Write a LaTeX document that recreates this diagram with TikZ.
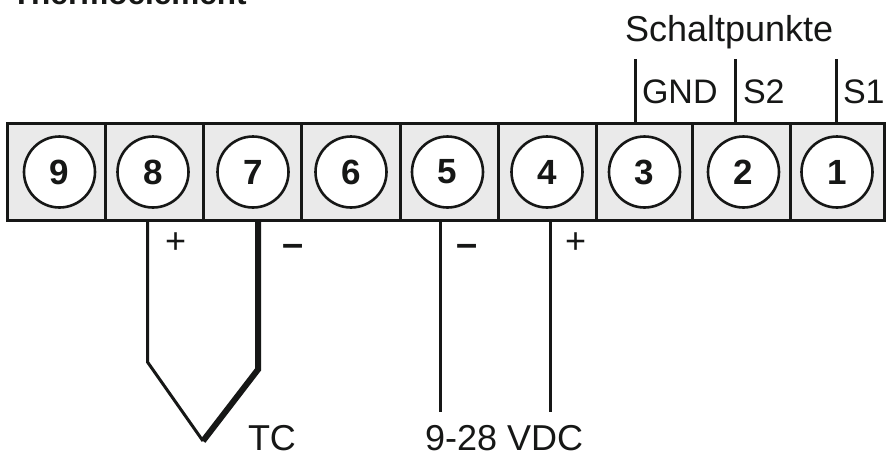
\documentclass[tikz,border=0pt]{standalone}
\usepackage{fontspec}
\setmainfont{Liberation Sans}
\definecolor{ink}{HTML}{161716}
\definecolor{cellgray}{HTML}{EAEAEA}
\tikzset{
  cell/.style={draw=ink,fill=cellgray,line width=3pt,rectangle,inner sep=0pt,outer sep=0pt,minimum height=97pt},
  term/.style={draw=ink,fill=white,line width=2.6pt,circle,inner sep=0pt,outer sep=0pt,minimum size=71pt,
    text=ink,font=\fontsize{35}{35}\selectfont\bfseries},
  wire/.style={draw=ink,line width=3pt,line cap=butt,line join=miter},
  heavy/.style={draw=ink,line width=6pt,line cap=butt,line join=miter},
  lab/.style={text=ink,inner sep=0pt,outer sep=0pt,font=\fontsize{36}{36}\selectfont},
  pol/.style={text=ink,inner sep=0pt,outer sep=0pt,font=\fontsize{36}{36}\selectfont},
  neg/.style={pol,font=\fontsize{38}{38}\selectfont\bfseries},
}
\begin{document}
\begin{tikzpicture}[x=1pt,y=-1pt]
\useasboundingbox (0,0) rectangle (886,456);
\fill[white] (0,0) rectangle (886,456);
% strip cells: name / left / right / circle centre
\foreach \n/\l/\r/\c in {9/7.5/105.5/59.5,8/105.5/203.5/153,7/203.5/301.5/253,6/301.5/400/351,
  5/400/498/447.5,4/498/596/547,3/596/692.5/644.5,2/692.5/790/743.5,1/790/884/837}{
  \node[cell,minimum width={\r-\l}] (cell\n) at ({(\l+\r)/2},171.5) {};
  \node[term] (t\n) at (\c,172) {\n};
}
% labels
\node[lab,anchor=base west,font=\fontsize{31.5}{32}\selectfont\bfseries] (title) at (12,4) {Thermoelement};
\node[lab,anchor=base west] (schalt) at (625,41) {Schaltpunkte};
\node[lab,anchor=base west,font=\fontsize{34}{34}\selectfont] (gnd) at (642,103) {GND};
\node[lab,anchor=base west,font=\fontsize{34}{34}\selectfont] (s2) at (743,103) {S2};
\node[lab,anchor=base west,font=\fontsize{34}{34}\selectfont] (s1) at (843,103) {S1};
\node[lab,anchor=base west] (tc) at (248,450) {TC};
\node[lab,anchor=base west] (vdc) at (425,450) {9-28 VDC};
\node[pol] (p8) at (175.7,243) {+};
\node[neg] (m7) at (293,250) {–};
\node[neg] (m5) at (467.5,250) {–};
\node[pol] (p4) at (575.7,243) {+};
% upper wires
\coordinate (gndtop) at (635.7,59);
\coordinate (s2top) at (735.7,59);
\coordinate (s1top) at (836,59);
\draw[wire] (gndtop) -- (gndtop |- cell3.north);
\draw[wire] (s2top) -- (s2top |- cell2.north);
\draw[wire] (s1top) -- (s1top |- cell1.north);
% lower wires
\coordinate (tcleft) at (147.5,362);
\coordinate (tcright) at (258,369.5);
\coordinate (tctip) at (203,441);
\coordinate (vm) at (440,412);
\coordinate (vp) at (550.5,412);
\draw[wire] (tcleft |- cell8.south) -- (tcleft) -- (tctip);
\draw[heavy] (tcright |- cell7.south) -- (tcright) -- (tctip);
\draw[wire] (vm |- cell5.south) -- (vm);
\draw[wire] (vp |- cell4.south) -- (vp);
\end{tikzpicture}
\end{document}
